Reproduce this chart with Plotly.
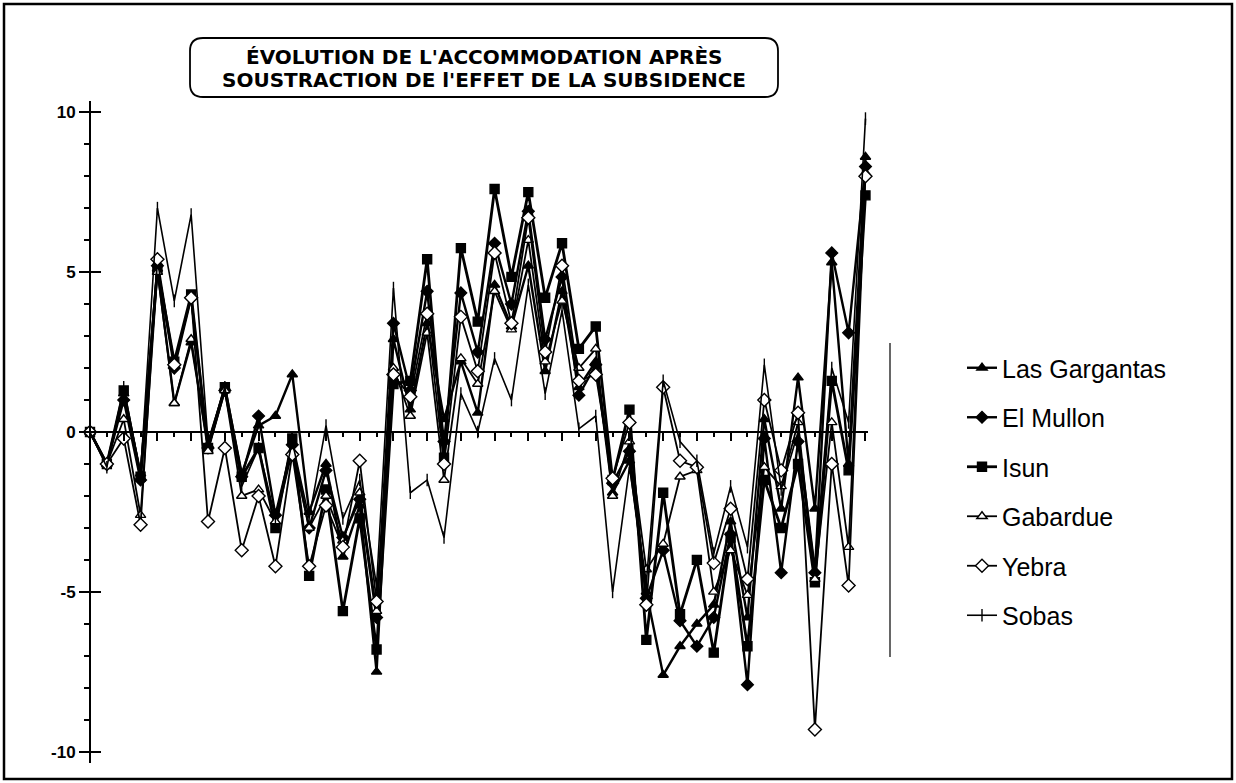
import plotly.graph_objects as go

# ---------------- data ----------------
step_index = list(range(47))

las_gargantas = [0, -1.0, 1.2, -1.3, 5.1, 0.9, 2.8, -0.4, 1.4, -1.3,
                 0.2, 0.5, 1.8, -2.5, -1.0, -3.9, -2.3, -7.5, 2.9, 0.7,
                 3.4, 0.4, 2.2, 0.6, 4.6, 3.3, 5.2, 1.9, 4.4, 1.4,
                 2.2, -1.9, -0.9, -5.0, -7.6, -6.7, -6.0, -5.4, -2.8, -5.8,
                 0.4, -2.4, 1.7, -2.4, 5.3, -1.0, 8.6]
el_mullon = [0, -1.0, 1.0, -1.5, 5.2, 2.0, 4.2, -0.5, 1.3, -1.4,
             0.5, -2.6, -0.4, -3.0, -1.2, -3.3, -2.1, -5.8, 3.4, 1.3,
             4.4, -0.3, 4.35, 2.5, 5.9, 4.0, 6.9, 2.9, 4.85, 1.15,
             2.1, -1.6, -0.6, -5.2, -3.7, -5.9, -6.7, -5.8, -3.2, -7.9,
             -0.2, -4.4, -0.3, -4.4, 5.6, 3.1, 8.3]
isun = [0, -1.0, 1.3, -1.4, 5.1, 2.2, 4.3, -0.5, 1.4, -1.4,
        -0.5, -3.0, -0.2, -4.5, -1.8, -5.6, -2.7, -6.8, 1.5, 1.6,
        5.4, -0.8, 5.75, 3.45, 7.6, 4.85, 7.5, 4.2, 5.9, 2.6,
        3.3, -1.5, 0.7, -6.5, -1.9, -5.7, -4.0, -6.9, -3.3, -6.7,
        -1.5, -3.0, -1.0, -4.7, 1.6, -1.2, 7.4]
gabardue = [0, -1.0, 0.4, -2.6, 5.0, 0.9, 2.9, -0.6, 1.3, -2.0,
            -1.8, -2.8, -0.6, -3.0, -2.0, -3.4, -1.9, -5.6, 2.0, 0.5,
            3.1, -1.5, 2.3, 1.5, 4.4, 3.2, 6.0, 2.2, 4.1, 2.0,
            2.6, -2.0, -0.3, -4.3, -3.5, -1.4, -1.2, -5.0, -3.7, -5.1,
            -1.1, -1.7, 0.3, -4.6, 0.3, -3.6, 8.1]
yebra = [0, -1.0, -0.2, -2.9, 5.4, 2.1, 4.2, -2.8, -0.5, -3.7,
         -2.0, -4.2, -0.7, -4.2, -2.3, -3.6, -0.9, -5.3, 1.8, 1.1,
         3.7, -1.0, 3.6, 1.9, 5.6, 3.4, 6.7, 2.5, 5.2, 1.6,
         1.8, -1.45, 0.3, -5.4, 1.4, -0.9, -1.1, -4.1, -2.4, -4.6,
         1.0, -1.2, 0.6, -9.3, -1.0, -4.8, 8.0]
sobas = [0, -1.1, 1.4, -1.3, 7.0, 4.1, 6.8, -0.3, 1.4, -1.7,
         -0.5, -2.7, -0.3, -2.7, 0.2, -2.7, -1.5, -4.8, 4.5, -1.9,
         -1.5, -3.3, 1.2, 0.0, 2.3, 1.0, 4.6, 1.2, 3.8, 0.1,
         0.5, -5.0, -1.1, -4.7, 1.6, -0.3, -0.9, -3.8, -1.7, -3.6,
         2.1, -1.8, 0.0, -4.2, 2.0, 0.3, 9.8]

series_names = ["Las Gargantas", "El Mullon", "Isun", "Gabardue", "Yebra", "Sobas"]
series_values = [las_gargantas, el_mullon, isun, gabardue, yebra, sobas]

y_tick_values = [-10, -5, 0, 5, 10]
y_tick_labels = ["-10", "-5", "0", "5", "10"]

title_lines = ["ÉVOLUTION DE L'ACCOMMODATION APRÈS",
               "SOUSTRACTION DE l'EFFET DE LA SUBSIDENCE"]

# ---------------- styles ----------------
styles = {
    "Las Gargantas": dict(symbol="triangle-up", color="black", lw=2.4, size=9),
    "El Mullon": dict(symbol="diamond", color="black", lw=2.4, size=9),
    "Isun": dict(symbol="square", color="black", lw=2.8, size=9),
    "Gabardue": dict(symbol="triangle-up", color="white", lw=1.8, size=9),
    "Yebra": dict(symbol="diamond", color="white", lw=1.8, size=10),
    "Sobas": dict(symbol="line-ns-open", color="black", lw=1.6, size=9),
}

fig = go.Figure()
for name, vals in zip(series_names, series_values):
    st = styles[name]
    fig.add_trace(go.Scatter(
        x=step_index, y=vals, name=name, mode="lines+markers",
        legendgroup=name,
        line=dict(color="black", width=st["lw"]),
        marker=dict(symbol=st["symbol"], size=st["size"], color=st["color"],
                    line=dict(color="black", width=1.4)),
        cliponaxis=False,
    ))

W, H = 1236, 783
L, R, T, B = 90, 368, 101, 20
pw, ph = W - L - R, H - T - B


def px(xp):
    return (xp - L) / pw


def py(yp):
    return (H - B - yp) / ph


# title rounded box
x0, x1 = px(190), px(778)
y0, y1 = py(97), py(38)
rx, ry = 13 / pw, 13 / ph
path = (f"M{x0+rx},{y1} L{x1-rx},{y1} Q{x1},{y1} {x1},{y1-ry} "
        f"L{x1},{y0+ry} Q{x1},{y0} {x1-rx},{y0} L{x0+rx},{y0} "
        f"Q{x0},{y0} {x0},{y0+ry} L{x0},{y1-ry} Q{x0},{y1} {x0+rx},{y1} Z")

shapes = [
    dict(type="path", xref="paper", yref="paper", path=path,
         line=dict(color="black", width=1.8), fillcolor="white"),
    dict(type="rect", xref="paper", yref="paper",
         x0=px(4), x1=px(1232), y0=py(779), y1=py(4),
         line=dict(color="black", width=2.5)),
    dict(type="line", xref="paper", yref="paper",
         x0=px(890), x1=px(890), y0=py(657), y1=py(343),
         line=dict(color="black", width=1.2)),
]

annotations = [
    dict(text=title_lines[0], xref="paper", yref="paper", x=px(484), y=py(57),
         showarrow=False, xanchor="center", yanchor="middle",
         font=dict(family="DejaVu Sans", size=20, color="black", weight="bold")),
    dict(text=title_lines[1], xref="paper", yref="paper", x=px(484), y=py(80),
         showarrow=False, xanchor="center", yanchor="middle",
         font=dict(family="DejaVu Sans", size=20, color="black", weight="bold")),
]

fig.update_layout(
    width=W, height=H,
    margin=dict(l=L, r=R, t=T, b=B),
    paper_bgcolor="white", plot_bgcolor="white",
    shapes=shapes, annotations=annotations,
    showlegend=True,
    legend=dict(x=px(962), xanchor="left", y=py(345), yanchor="top",
                font=dict(family="Liberation Sans", size=25, color="black"),
                tracegroupgap=14, bgcolor="rgba(0,0,0,0)"),
    xaxis=dict(range=[0, 46.15], anchor="free", position=0.5,
               showline=True, linecolor="black", linewidth=2,
               ticks="outside", tickcolor="black", ticklen=8, tickwidth=2,
               tick0=0, dtick=2,
               minor=dict(dtick=1, ticks="outside", ticklen=4, tickcolor="black", tickwidth=1.5),
               showticklabels=False, showgrid=False, zeroline=False),
    yaxis=dict(range=[-10.35, 10.35], domain=[0, 1], anchor="free", position=0,
               showline=True, linecolor="black", linewidth=2,
               ticks="outside", tickcolor="black", ticklen=10, tickwidth=2,
               tickvals=y_tick_values, ticktext=y_tick_labels,
               minor=dict(dtick=1, ticks="outside", ticklen=5, tickcolor="black", tickwidth=1.5),
               tickfont=dict(family="Liberation Sans", size=17, color="black", weight="bold"),
               showgrid=False, zeroline=False),
    yaxis2=dict(range=[-10.35, 10.35], overlaying="y", anchor="free", position=0,
                ticks="inside", tickcolor="black", ticklen=10, tickwidth=2,
                tickvals=y_tick_values, showticklabels=False,
                showline=False, showgrid=False, zeroline=False),
)

# invisible trace so yaxis2 is drawn
fig.add_trace(go.Scatter(x=[None], y=[None], yaxis="y2", showlegend=False,
                         hoverinfo="skip"))

fig.write_html("out.html",
               config={"displayModeBar": False},
               post_script="document.body.style.margin='0';document.body.style.overflow='hidden';")
